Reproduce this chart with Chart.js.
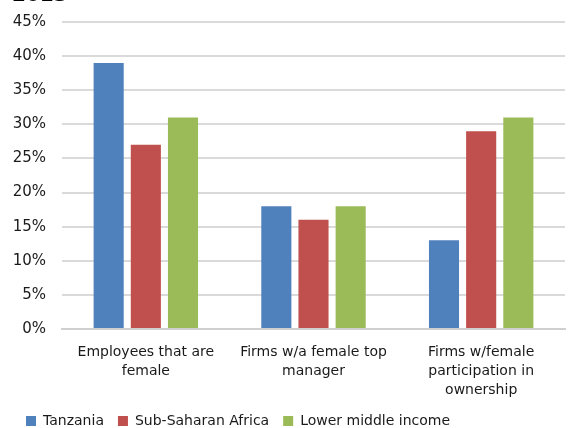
<!DOCTYPE html>
<html>
<head>
<meta charset="utf-8">
<script src="https://cdn.jsdelivr.net/npm/chart.js@4/dist/chart.umd.min.js"></script>
<style>
  html, body { margin: 0; padding: 0; background: #fff; overflow: hidden; }
  #wrap { position: absolute; left: 0; top: -16px; width: 570px; height: 454px; }
</style>
</head>
<body>
<div id="wrap"><canvas id="chart"></canvas></div>
<script>
// Female participation, 2013
const TITLE = '2013';
const CATEGORIES = [
    ['Employees that are', 'female'],
    ['Firms w/a female top', 'manager'],
    ['Firms w/female', 'participation in', 'ownership'],
];
const TANZANIA = [39, 18, 13];
const SUB_SAHARAN = [27, 16, 29];
const LOWER_MIDDLE = [31, 18, 31];
const Y_MAX = 45, Y_STEP = 5;

const COLORS = { tz: '#4f81bd', ssa: '#c0504d', lmi: '#9bbb59' };
const FONT = 'DejaVu Sans';

function ds(label, data, color) {
    return { label, data, backgroundColor: color, borderWidth: 0,
             barPercentage: 0.81, categoryPercentage: 0.665 };
}

new Chart(document.getElementById('chart'), {
    type: 'bar',
    data: {
        labels: CATEGORIES,
        datasets: [
            ds('Tanzania', TANZANIA, COLORS.tz),
            ds('Sub-Saharan Africa', SUB_SAHARAN, COLORS.ssa),
            ds('Lower middle income', LOWER_MIDDLE, COLORS.lmi),
        ],
    },
    options: {
        animation: false,
        responsive: true, maintainAspectRatio: false,
        layout: { padding: { left: 12, right: 5, top: 0, bottom: 0 } },
        plugins: {
            title: {
                display: true, text: TITLE, align: 'start', color: '#000',
                font: { family: FONT, size: 20, weight: 'bold' },
                padding: { top: 0, bottom: 14 },
            },
            legend: {
                position: 'bottom', align: 'start',
                labels: {
                    boxWidth: 10, boxHeight: 10, padding: 14, color: '#1a1a1a',
                    font: { family: FONT, size: 14 },
                },
            },
            tooltip: { enabled: false },
        },
        scales: {
            x: {
                grid: { display: false, drawTicks: false },
                border: { display: true, color: '#d0d0d0', width: 2 },
                ticks: {
                    color: '#1a1a1a', padding: 14, maxRotation: 0, autoSkip: false,
                    font: { family: FONT, size: 14, lineHeight: 1.35 },
                },
                // three label lines plus padding; keep the legend tucked under them
                afterFit(scale) {
                    scale.paddingLeft = 0; scale.paddingRight = 0;
                    scale.height = 71;
                },
            },
            y: {
                min: 0, max: Y_MAX,
                border: { display: false },
                grid: { color: '#dadada', lineWidth: 2, drawTicks: false },
                ticks: {
                    stepSize: Y_STEP, padding: 16, color: '#1a1a1a',
                    font: { family: FONT, size: 15 },
                    callback: v => v + '%',
                },
                afterFit(scale) { scale.width = 50; },
            },
        },
    },
});
</script>
</body>
</html>
